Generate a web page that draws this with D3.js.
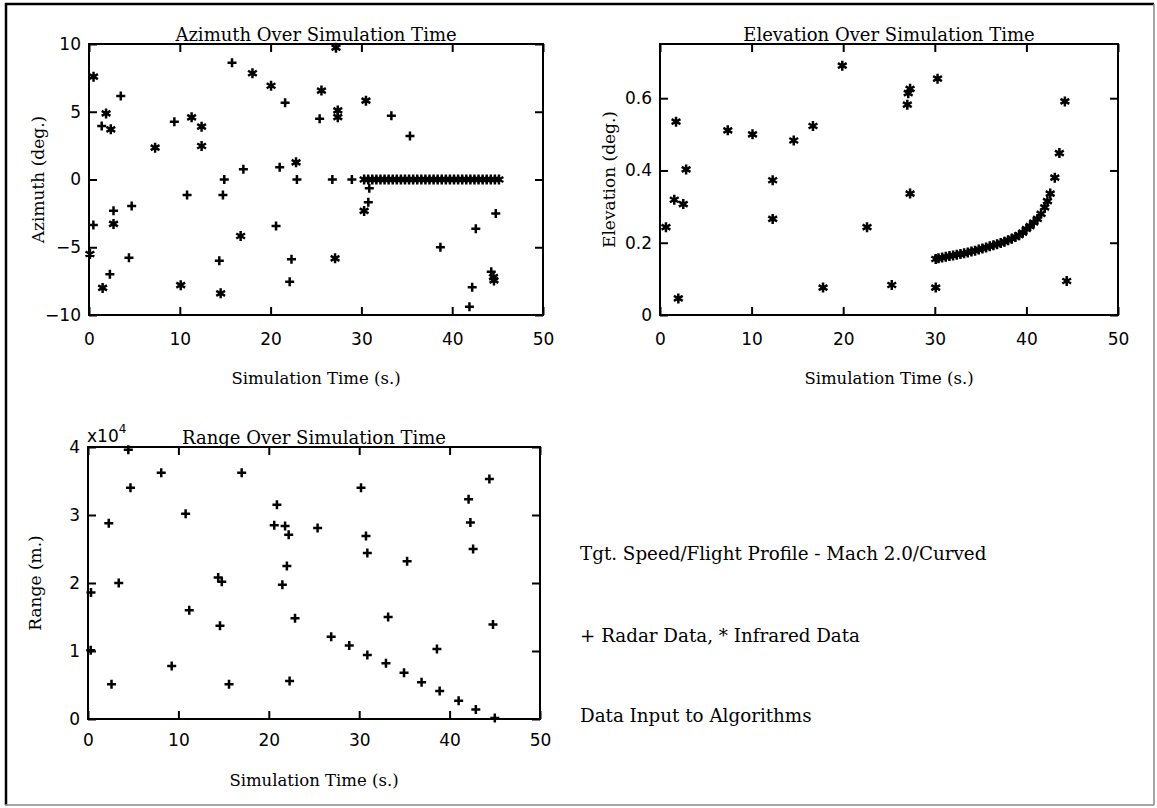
<!DOCTYPE html>
<html>
<head>
<meta charset="utf-8">
<script src="https://cdn.jsdelivr.net/npm/d3@7"></script>
<style>
  body { margin: 0; background: #fff; }
  svg { display: block; }
  .tick text { font-family: "DejaVu Sans", sans-serif; font-size: 17px; fill: #000; }
  .tick line { stroke: #000; stroke-width: 2; }
  .lbl { font-family: "DejaVu Serif", serif; fill: #000; }
</style>
</head>
<body>
<div id="chart"></div>
<script>
var w = 1157;
var h = 808;

// ---- data: [time (s), value] ----
var xTicks = [0, 10, 20, 30, 40, 50];
var azTicks = [-10, -5, 0, 5, 10];
var elTicks = [0, 0.2, 0.4, 0.6];
var rangeTicks = [0, 10000, 20000, 30000, 40000];

var azimuthRadar = [
  [3.5, 6.16], [1.4, 3.95], [9.4, 4.27], [15.75, 8.62], [21.6, 5.67], [22.9, 0],
  [21.0, 0.9], [17.0, 0.75], [14.9, 0], [14.75, -1.14], [10.8, -1.14], [4.7, -1.96],
  [2.7, -2.3], [0.48, -3.36], [20.6, -3.43], [4.4, -5.77], [14.35, -5.99], [22.3, -5.89],
  [2.3, -7.0], [22.1, -7.54], [25.4, 4.49], [33.3, 4.71], [35.35, 3.21], [26.8, 0],
  [28.95, 0], [30.87, -0.65], [30.76, -1.68], [44.8, -2.5], [42.6, -3.63], [38.7, -5.0],
  [42.2, -7.96], [44.3, -6.8], [41.9, -9.4]
];
var azimuthInfrared = [
  [0.5, 7.59], [1.88, 4.88], [2.4, 3.7], [7.28, 2.35], [11.3, 4.59], [12.4, 3.9],
  [12.4, 2.47], [18.0, 7.84], [20.05, 6.92], [22.8, 1.27], [2.7, -3.28], [16.7, -4.17],
  [0.1, -5.5], [1.5, -8.0], [10.1, -7.8], [14.5, -8.4], [27.2, 9.73], [25.6, 6.56],
  [27.4, 5.1], [27.4, 4.6], [30.5, 5.82], [30.3, -2.32], [27.1, -5.82], [44.55, -7.2],
  [44.6, -7.45]
];
// infrared track held at zero azimuth
var azimuthInfraredTrack = [
  [30.3, 0], [30.75, 0], [31.2, 0], [31.65, 0], [32.1, 0], [32.55, 0], [33.0, 0],
  [33.45, 0], [33.9, 0], [34.35, 0], [34.8, 0], [35.25, 0], [35.7, 0], [36.15, 0],
  [36.6, 0], [37.05, 0], [37.5, 0], [37.95, 0], [38.4, 0], [38.85, 0], [39.3, 0],
  [39.75, 0], [40.2, 0], [40.65, 0], [41.1, 0], [41.55, 0], [42.0, 0], [42.45, 0],
  [42.9, 0], [43.35, 0], [43.8, 0], [44.25, 0], [44.7, 0], [45.15, 0]
];

var elevationInfrared = [
  [19.9, 0.69], [1.75, 0.535], [7.4, 0.511], [10.1, 0.50], [14.6, 0.483], [16.7, 0.523],
  [2.85, 0.403], [12.3, 0.373], [1.56, 0.319], [2.54, 0.307], [12.3, 0.266], [0.65, 0.243],
  [22.6, 0.243], [17.8, 0.076], [2.0, 0.046], [30.3, 0.654], [27.3, 0.626], [27.1, 0.614],
  [27.0, 0.582], [25.3, 0.083], [30.1, 0.076], [44.4, 0.094], [27.3, 0.336]
];
var elevationInfraredTrack = [
  [30.1, 0.155], [30.4, 0.157], [30.8, 0.159], [31.2, 0.161], [31.6, 0.163], [32.0, 0.165],
  [32.4, 0.167], [32.8, 0.169], [33.2, 0.171], [33.6, 0.173], [34.0, 0.176], [34.4, 0.178],
  [34.8, 0.181], [35.2, 0.184], [35.6, 0.187], [36.0, 0.190], [36.4, 0.193], [36.8, 0.196],
  [37.2, 0.199], [37.6, 0.203], [38.0, 0.207], [38.4, 0.211], [38.8, 0.216], [39.2, 0.221],
  [39.6, 0.228], [40.0, 0.238], [40.4, 0.246], [40.8, 0.256], [41.2, 0.266], [41.6, 0.28],
  [42.0, 0.298], [42.3, 0.315], [42.6, 0.336], [43.1, 0.38], [43.6, 0.448], [44.2, 0.591]
];

var rangeRadar = [
  [4.46, 39600], [8.1, 36200], [17.0, 36200], [4.7, 34000], [20.9, 31500], [10.8, 30200],
  [2.3, 28800], [20.6, 28500], [21.8, 28400], [22.2, 27100], [22.0, 22500], [3.4, 20000],
  [14.4, 20800], [14.8, 20200], [21.5, 19750], [0.33, 18600], [11.2, 16000], [14.6, 13700],
  [22.9, 14800], [0.3, 10100], [9.26, 7800], [2.6, 5100], [15.6, 5100], [22.3, 5600],
  [44.4, 35300], [30.2, 34000], [42.1, 32300], [42.3, 28900], [42.6, 25000], [25.4, 28100],
  [30.75, 26900], [30.9, 24400], [35.3, 23200], [33.2, 15000], [44.8, 13900], [26.9, 12100],
  [28.9, 10800], [30.9, 9400], [32.96, 8200], [34.96, 6800], [38.6, 10300], [36.9, 5400],
  [38.9, 4100], [41.0, 2700], [42.9, 1400], [45.0, 150]
];

var notes = [
  "Tgt. Speed/Flight Profile - Mach 2.0/Curved",
  "+ Radar Data, * Infrared Data",
  "Data Input to Algorithms"
];

var svg = d3.select("#chart")
    .append("svg")
    .attr("width", w)
    .attr("height", h);

svg.append("rect").attr("width", w).attr("height", h).attr("fill", "#fff");

// outer frame (scanned page edge)
svg.append("line").attr("x1", 6).attr("y1", 3).attr("x2", 6).attr("y2", 805)
    .attr("stroke", "#000").attr("stroke-width", 2.5);
svg.append("line").attr("x1", 5).attr("y1", 4).attr("x2", 1154).attr("y2", 4)
    .attr("stroke", "#000").attr("stroke-width", 2.5);
svg.append("line").attr("x1", 1154).attr("y1", 4).attr("x2", 1154).attr("y2", 805)
    .attr("stroke", "#888").attr("stroke-width", 1.5);
svg.append("line").attr("x1", 5).attr("y1", 805).attr("x2", 1154).attr("y2", 805)
    .attr("stroke", "#888").attr("stroke-width", 1.5);

var plusPath = "M-4.5,0H4.5M0,-4.5V4.5";
var starPath = "M0,-5V5M-4.4,-2.5L4.4,2.5M-4.4,2.5L4.4,-2.5";

function panel(opt) {
    var xScale = d3.scaleLinear().domain([0, 50]).range([opt.left, opt.right]);
    var yScale = d3.scaleLinear().domain(opt.yDomain).range([opt.bottom, opt.top]);

    var g = svg.append("g");

    g.append("rect")
        .attr("x", opt.left).attr("y", opt.top)
        .attr("width", opt.right - opt.left).attr("height", opt.bottom - opt.top)
        .attr("fill", "none").attr("stroke", "#000").attr("stroke-width", 2);

    var xAxis = d3.axisBottom(xScale).tickValues(xTicks).tickSize(-8).tickPadding(opt.xPad);
    var yAxis = d3.axisLeft(yScale).tickValues(opt.yTicks).tickSize(-8).tickPadding(8)
        .tickFormat(opt.yFormat);

    g.append("g").attr("transform", "translate(0," + opt.bottom + ")").call(xAxis);
    g.append("g").attr("transform", "translate(" + opt.left + ",0)").call(yAxis);
    g.append("g").attr("transform", "translate(0," + opt.top + ")")
        .call(d3.axisTop(xScale).tickValues(xTicks).tickSize(-8).tickFormat(""));
    g.append("g").attr("transform", "translate(" + opt.right + ",0)")
        .call(d3.axisRight(yScale).tickValues(opt.yTicks).tickSize(-8).tickFormat(""));
    g.selectAll(".domain").remove();

    // title, axis labels
    g.append("text").attr("class", "lbl")
        .attr("x", (opt.left + opt.right) / 2).attr("y", opt.top - 3)
        .attr("text-anchor", "middle").style("font-size", "18px")
        .text(opt.title);
    g.append("text").attr("class", "lbl")
        .attr("x", (opt.left + opt.right) / 2).attr("y", opt.xLabelY)
        .attr("text-anchor", "middle").style("font-size", "16.5px")
        .text("Simulation Time (s.)");
    g.append("text").attr("class", "lbl")
        .attr("transform", "translate(" + opt.yLabelX + "," + (opt.top + opt.bottom) / 2 + ") rotate(-90)")
        .attr("text-anchor", "middle").style("font-size", "17px")
        .text(opt.yLabel);

    opt.series.forEach(function (s) {
        g.append("g").selectAll("path")
            .data(s.data)
            .enter()
            .append("path")
            .attr("transform", function (d) {
                return "translate(" + xScale(d[0]) + "," + yScale(d[1]) + ")";
            })
            .attr("d", s.marker)
            .attr("fill", "none")
            .attr("stroke", "#000")
            .attr("stroke-width", 2.5);
    });
    return g;
}

panel({
    left: 89, right: 543, top: 44, bottom: 315,
    yDomain: [-10, 10], yTicks: azTicks, yFormat: d3.format("d"), xPad: 18,
    title: "Azimuth Over Simulation Time", yLabel: "Azimuth (deg.)",
    xLabelY: 384, yLabelX: 44,
    series: [
        { data: azimuthRadar, marker: plusPath },
        { data: azimuthInfrared, marker: starPath },
        { data: azimuthInfraredTrack, marker: starPath }
    ]
});

panel({
    left: 660, right: 1118, top: 44, bottom: 315,
    yDomain: [0, 0.75], yTicks: elTicks,
    yFormat: function (d) { return d === 0 ? "0" : d3.format(".1f")(d); }, xPad: 18,
    title: "Elevation Over Simulation Time", yLabel: "Elevation (deg.)",
    xLabelY: 384, yLabelX: 615,
    series: [
        { data: elevationInfrared, marker: starPath },
        { data: elevationInfraredTrack, marker: starPath }
    ]
});

var rangePanel = panel({
    left: 88, right: 540, top: 447, bottom: 719,
    yDomain: [0, 40000], yTicks: rangeTicks,
    yFormat: function (d) { return d / 10000; }, xPad: 15,
    title: "Range Over Simulation Time", yLabel: "Range (m.)",
    xLabelY: 786, yLabelX: 41,
    series: [
        { data: rangeRadar, marker: plusPath }
    ]
});

// x10^4 multiplier
var mult = rangePanel.append("text")
    .attr("x", 87).attr("y", 442)
    .style("font-family", "DejaVu Sans, sans-serif").style("font-size", "17px");
mult.append("tspan").text("x10");
mult.append("tspan").attr("dy", -9).style("font-size", "12px").text("4");

svg.selectAll(".note")
    .data(notes)
    .enter()
    .append("text")
    .attr("class", "lbl note")
    .attr("x", 580)
    .attr("y", function (d, i) { return [560, 642, 722][i]; })
    .style("font-size", "18.3px")
    .text(function (d) { return d; });
</script>
</body>
</html>
